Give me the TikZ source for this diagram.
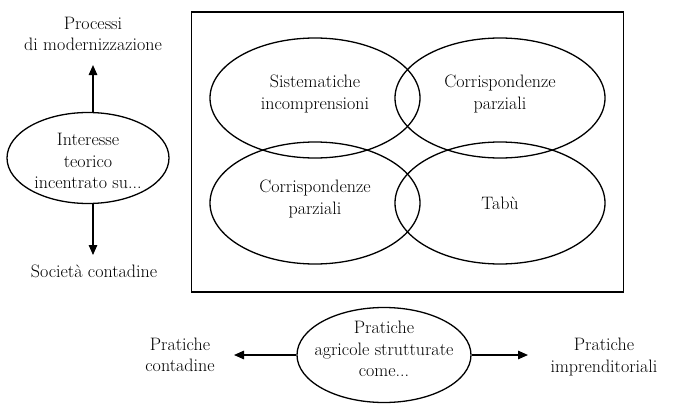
\documentclass[tikz,border=0pt]{standalone}
\usetikzlibrary{arrows.meta,shapes.geometric}
\begin{document}
\begin{tikzpicture}[x=1pt,y=-1pt,
  every node/.style={font=\fontsize{18}{21.5}\selectfont, align=center, inner sep=0pt},
  oval/.style={draw, line width=1.3pt},
  arr/.style={line width=1.4pt, -{Triangle[length=10pt,width=8.5pt]}}]
\useasboundingbox (0,0) rectangle (675,407);
% frame around the four overlapping fields
\node[draw, line width=1.6pt, minimum width=432pt, minimum height=280pt] (frame) at (407.5,152) {};
% overlapping ellipses
\draw[oval] (315,98) ellipse [x radius=105, y radius=60];
\draw[oval] (500,98) ellipse [x radius=105, y radius=60];
\draw[oval] (315,203) ellipse [x radius=105, y radius=61];
\draw[oval] (500,203) ellipse [x radius=105, y radius=61];
\node (sis) at (315,94) {Sistematiche\\incomprensioni};
\node (cp1) at (500,94) {Corrispondenze\\parziali};
\node (cp2) at (315,199) {Corrispondenze\\parziali};
\node (tab) at (500,203) {Tabù};
% left: theoretical interest
\node[oval, ellipse, minimum width=162pt, minimum height=91pt] (int) at (88,158) {};
\node at (88,161) {Interesse\\teorico\\incentrato su...};
\node (mod) at (93,34) {Processi\\di modernizzazione};
\node (soc) at (94,271) {Società contadine};
\coordinate (upTip) at (93,65);
\coordinate (dnTip) at (93,255);
\draw[arr] (int.north -| upTip) -- (upTip);
\draw[arr] (int.south -| dnTip) -- (dnTip);
% bottom: agricultural practices
\node[oval, ellipse, minimum width=174pt, minimum height=95pt] (agr) at (384,355) {};
\node at (384,349) {Pratiche\\agricole strutturate\\come...};
\node (con) at (180,355) {Pratiche\\contadine};
\node (imp) at (604,357) {Pratiche\\imprenditoriali};
\coordinate (lTip) at (234,355);
\coordinate (rTip) at (528,355);
\draw[arr] (agr.west) -- (lTip);
\draw[arr] (agr.east) -- (rTip);
\end{tikzpicture}
\end{document}
